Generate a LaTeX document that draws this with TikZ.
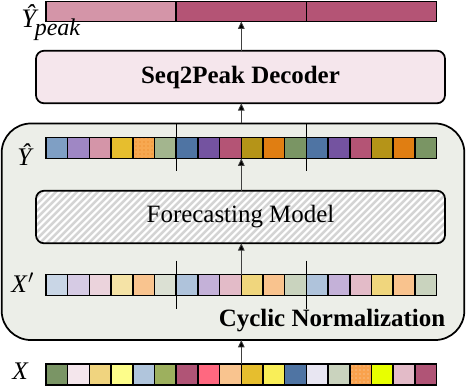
\documentclass[tikz,border=0pt]{standalone}
\usepackage{fontspec}
\setmainfont{Liberation Serif}
\usetikzlibrary{arrows.meta,patterns,calc}
% Y-hat row colours
\definecolor{ca}{HTML}{7F9FC4}
\definecolor{cb}{HTML}{9F87C4}
\definecolor{cc}{HTML}{D495A8}
\definecolor{cd}{HTML}{E6BE2E}
\definecolor{ce}{HTML}{F7A851}
\definecolor{cf}{HTML}{A3B58E}
\definecolor{cg}{HTML}{4F74A3}
\definecolor{ch}{HTML}{7453A0}
\definecolor{ci}{HTML}{B45475}
\definecolor{cj}{HTML}{B59418}
\definecolor{ck}{HTML}{E07E12}
\definecolor{cl}{HTML}{7A9564}
% X' row colours
\definecolor{pa}{HTML}{C9D6E6}
\definecolor{pb}{HTML}{D6CBE4}
\definecolor{pc}{HTML}{EBD3DC}
\definecolor{pd}{HTML}{F5E3A6}
\definecolor{pe}{HTML}{F9C48F}
\definecolor{pf}{HTML}{DBE0D3}
\definecolor{pg}{HTML}{AFC3DB}
\definecolor{ph}{HTML}{C4B1D8}
\definecolor{pi}{HTML}{E3BBC8}
\definecolor{pj}{HTML}{F0D67D}
\definecolor{pk}{HTML}{F9C38E}
\definecolor{pl}{HTML}{C9D3BE}
% X row colours
\definecolor{xa}{HTML}{7A9565}
\definecolor{xb}{HTML}{F4E6EC}
\definecolor{xc}{HTML}{F0D47F}
\definecolor{xd}{HTML}{FDFD8A}
\definecolor{xe}{HTML}{B0C5DC}
\definecolor{xf}{HTML}{9DB05E}
\definecolor{xg}{HTML}{B05476}
\definecolor{xh}{HTML}{FF6880}
\definecolor{xi}{HTML}{F9C48F}
\definecolor{xj}{HTML}{E6BE2E}
\definecolor{xk}{HTML}{F9EE58}
\definecolor{xl}{HTML}{4F74A3}
\definecolor{xm}{HTML}{E8E6F2}
\definecolor{xn}{HTML}{CAD3BE}
\definecolor{xo}{HTML}{F9A24D}
\definecolor{xp}{HTML}{E8FF00}
\definecolor{xq}{HTML}{E3BBC8}
\definecolor{xr}{HTML}{B05476}
% boxes
\definecolor{decfill}{HTML}{F5E6EC}
\definecolor{outfill}{HTML}{ECEEE8}
\definecolor{hatchgray}{HTML}{D4D4D4}
\definecolor{dotorange}{HTML}{E8801A}
\begin{document}
\begin{tikzpicture}[x=0.75pt,y=-0.75pt,
  cell/.style={draw=black,line width=1.1pt,minimum width=16.275pt,minimum height=15.75pt,inner sep=0pt,outer sep=0pt},
  peakcell/.style={draw=black,line width=1.1pt,minimum width=97.65pt,minimum height=15pt,inner sep=0pt,outer sep=0pt},
  bigbox/.style={draw=black,line width=1.3pt,rounded corners=6pt,minimum width=306.75pt,minimum height=39.4pt,inner sep=0pt,outer sep=0pt},
  lbl/.style={font=\fontsize{18.7}{22}\selectfont},
  mlbl/.style={inner sep=0pt,anchor=base west,font=\itshape\fontsize{19}{22}\selectfont},
  arr/.style={draw=black!75,line width=0.6pt,-{Triangle[length=5.5pt,width=5pt,fill=black]}},
  sep/.style={draw=black,line width=0.9pt}
]
\useasboundingbox (0,0) rectangle (466,386);

% outer cyclic normalization box
\node[draw=black,line width=1.3pt,fill=outfill,rounded corners=22pt,minimum width=347pt,minimum height=162.4pt,inner sep=0pt,outer sep=0pt] (outer) at (233,231.75) {};

% decoder
\node[bigbox,fill=decfill,lbl] (dec) at (240.5,77) {\textbf{Seq2Peak Decoder}};

% forecasting model (hatched)
\node[bigbox,fill=hatchgray,lbl,
  path picture={
    \foreach \k in {-63,-56,...,420}{
      \draw[white,line width=1.6pt] ($(path picture bounding box.south west)+(\k,0)$) -- ++(60,-60);
    }
  }] (fm) at (240.5,217) {Forecasting Model};

% Y-hat peak row
\node[peakcell,fill=cc] (pk1) at (111.1,11.5) {};
\node[peakcell,fill=ci] (pk2) at (241.3,11.5) {};
\node[peakcell,fill=ci] (pk3) at (371.5,11.5) {};

% Y-hat row
\foreach \c [count=\i] in {ca,cb,cc,cd,ce,cf,cg,ch,ci,cj,ck,cl,cg,ch,ci,cj,ck,cl}{
  \node[cell,fill=\c] (yh\i) at ({46+21.7*(\i-0.5)},148) {};
}
\fill[pattern=dots,pattern color=dotorange] (yh5.south west) rectangle (yh5.north east);
\draw[line width=1.1pt] (yh5.south west) rectangle (yh5.north east);

% X' row
\foreach \c [count=\i] in {pa,pb,pc,pd,pe,pf,pg,ph,pi,pj,pk,pl,pg,ph,pi,pj,pk,pl}{
  \node[cell,fill=\c] (xq\i) at ({46+21.7*(\i-0.5)},285) {};
}

% X row
\foreach \c [count=\i] in {xa,xb,xc,xd,xe,xf,xg,xh,xi,xj,xk,xl,xm,xn,xo,xp,xq,xr}{
  \node[cell,fill=\c] (xx\i) at ({46+21.7*(\i-0.5)},374.5) {};
}
\fill[pattern=dots,pattern color=white!70!dotorange] (xx15.south west) rectangle (xx15.north east);
\draw[line width=1.1pt] (xx15.south west) rectangle (xx15.north east);

% separators
\draw[sep] (yh6.north east |- outer.north) -- ($(yh6.south east)+(0,12)$);
\draw[sep] (yh12.north east |- outer.north) -- ($(yh12.south east)+(0,12)$);
\draw[sep] ($(xq6.north east)+(0,-14)$) -- ($(xq6.south east)+(0,13.5)$);
\draw[sep] ($(xq12.north east)+(0,-14)$) -- ($(xq12.south east)+(0,13.5)$);

% labels
\node[mlbl,font=\itshape\fontsize{20}{23}\selectfont] (lpk) at (21,27) {Ŷ\kern-1pt\raisebox{-6pt}{\fontsize{18}{20}\selectfont peak}};
\node[mlbl] (lyh) at (17,165) {Ŷ};
\node[mlbl] (lxq) at (11,292) {X\kern1pt$'$};
\node[mlbl] (lxx) at (12,379) {X};
\node[lbl] (cyc) at (332,321) {\textbf{Cyclic Normalization}};

% arrows
\draw[arr] (xx9.north east) -- (xx9.north east |- outer.south);
\draw[arr] (xq9.north east) -- (xq9.north east |- fm.south);
\draw[arr] (fm.north -| yh9.east) -- (yh9.south east);
\draw[arr] (outer.north -| pk2.south) -- (pk2.south |- dec.south);
\draw[arr] (dec.north -| pk2.south) -- (pk2.south);
\end{tikzpicture}
\end{document}
